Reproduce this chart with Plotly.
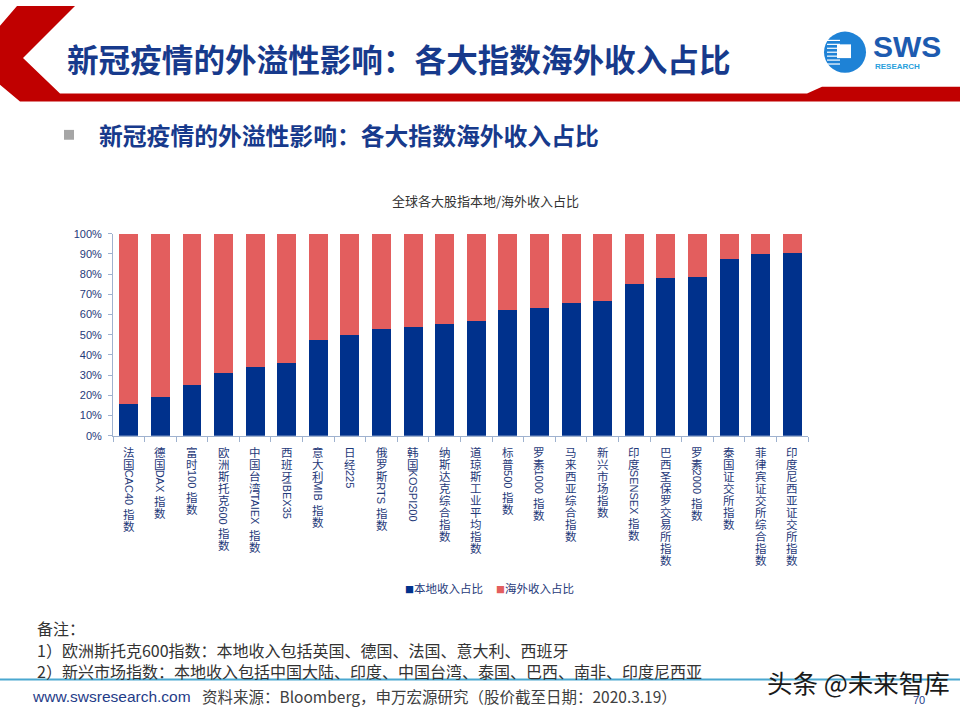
import plotly.graph_objects as go

# ---------------- data ----------------
categories = [
    "法国CAC40 指数", "德国DAX 指数", "富时100 指数", "欧洲斯托克600 指数",
    "中国台湾TAIEX 指数", "西班牙IBEX35", "意大利MIB 指数", "日经225",
    "俄罗斯RTS 指数", "韩国KOSPI200", "纳斯达克综合指数", "道琼斯工业平均指数",
    "标普500 指数", "罗素1000 指数", "马来西亚综合指数", "新兴市场指数",
    "印度SENSEX 指数", "巴西圣保罗交易所指数", "罗素2000 指数", "泰国证交所指数",
    "菲律宾证交所综合指数", "印度尼西亚证交所指数",
]
local_share = [15.8, 19.0, 24.9, 31.2, 33.8, 36.1, 47.3, 49.8, 52.7, 53.7, 55.1,
               56.7, 62.1, 63.3, 65.9, 66.8, 75.1, 78.0, 78.7, 87.3, 89.9, 90.4]
overseas_share = [84.2, 81.0, 75.1, 68.8, 66.2, 63.9, 52.7, 50.2, 47.3, 46.3, 44.9,
                  43.3, 37.9, 36.7, 34.1, 33.2, 24.9, 22.0, 21.3, 12.7, 10.1, 9.6]
series_names = ["本地收入占比", "海外收入占比"]
y_tick_values = [0, 10, 20, 30, 40, 50, 60, 70, 80, 90, 100]
y_tick_labels = ["0%", "10%", "20%", "30%", "40%", "50%", "60%", "70%", "80%", "90%", "100%"]

chart_title = "全球各大股指本地/海外收入占比"
page_title = "新冠疫情的外溢性影响：各大指数海外收入占比"
sub_title = "新冠疫情的外溢性影响：各大指数海外收入占比"
notes = ["备注：",
         "1）欧洲斯托克600指数：本地收入包括英国、德国、法国、意大利、西班牙",
         "2）新兴市场指数：本地收入包括中国大陆、印度、中国台湾、泰国、巴西、南非、印度尼西亚"]
footer_url = "www.swsresearch.com"
footer_source = "资料来源：Bloomberg，申万宏源研究（股价截至日期：2020.3.19）"
page_no = "70"
watermark = "头条 @未来智库"

# ---------------- styling ----------------
W, H = 960, 720
NAVY = "#00318C"
RED = "#E35E5E"
AXIS = "#9FB2CF"
LABEL = "#1F3A7A"
TITLE_BLUE = "#173A8C"
CJK = "Noto Sans CJK SC"
LAT = "Liberation Sans, Arial, Noto Sans CJK SC, sans-serif"


def px(x):
    return x / W


def py(y):
    return 1 - y / H


fig = go.Figure()
fig.add_trace(go.Bar(x=categories, y=local_share, name=series_names[0],
                     marker=dict(color=NAVY, line=dict(width=0))))
fig.add_trace(go.Bar(x=categories, y=overseas_share, name=series_names[1],
                     marker=dict(color=RED, line=dict(width=0))))

fig.update_layout(
    barmode="stack", bargap=0.4, width=W, height=H,
    margin=dict(l=0, r=0, t=0, b=0),
    paper_bgcolor="white", plot_bgcolor="white", showlegend=False,
)
fig.update_xaxes(
    domain=[px(113), px(808)], showticklabels=False, showline=True,
    linecolor=AXIS, linewidth=1, ticks="outside", tickson="boundaries",
    ticklen=5, tickcolor=AXIS, showgrid=False, zeroline=False,
)
fig.update_yaxes(
    domain=[py(437), py(231.5)], range=[0, 100], tickvals=y_tick_values,
    ticktext=y_tick_labels, ticks="outside", ticklen=4, tickcolor=AXIS,
    showline=True, linecolor=AXIS, linewidth=1, showgrid=False, zeroline=False,
    tickfont=dict(family=LAT, size=11, color=LABEL), ticklabelstandoff=4,
)

# ---------------- vertical category labels ----------------
# CJK runs are stacked one character per line (line pitch 12px);
# Latin runs are rotated 90 degrees, as in the reference.
ARIAL_W = {"C": .722, "A": .667, "D": .722, "X": .667, "T": .611, "I": .278,
           "E": .667, "B": .667, "M": .833, "R": .722, "S": .667, "K": .667,
           "O": .778, "P": .667, "N": .722, " ": .278}
PITCH = 12
BASE_FS = PITCH / 1.3
annotations = []
for cat in categories:
    offset = 10
    i = 0
    while i < len(cat):
        c = cat[i]
        if ord(c) < 128:
            j = i
            while j < len(cat) and ord(cat[j]) < 128:
                j += 1
            run = cat[i:j]
            w = sum(ARIAL_W.get(ch, .556) for ch in run) * 11
            annotations.append(dict(
                x=cat, y=0, xref="x", yref="y", text=run.strip(), showarrow=False,
                textangle=90, xanchor="center", yanchor="middle",
                yshift=-(offset + w / 2 - (1.5 if run.endswith(" ") else 0)),
                font=dict(family=LAT, size=11, color=LABEL), borderpad=0))
            offset += w
            i = j
        else:
            j = i
            while j < len(cat) and ord(cat[j]) >= 128:
                j += 1
            run = cat[i:j]
            txt = "<br>".join(f'<span style="font-size:11.5px">{ch}</span>' for ch in run)
            n = len(run)
            annotations.append(dict(
                x=cat, y=0, xref="x", yref="y", text=txt, showarrow=False,
                xanchor="center", yanchor="middle",
                yshift=-(offset + n * PITCH / 2),
                font=dict(family=CJK, size=BASE_FS, color=LABEL), borderpad=0))
            offset += n * PITCH
            i = j


def text_at(x, y, text, size, color, family=CJK, xanchor="left", yanchor="middle"):
    annotations.append(dict(x=px(x), y=py(y), xref="paper", yref="paper", text=text,
                            showarrow=False, xanchor=xanchor, yanchor=yanchor,
                            font=dict(family=family, size=size, color=color)))


# slide texts
text_at(65, 53, "<b>" + page_title + "</b>", 31.6, TITLE_BLUE)
text_at(97, 131, "<b>" + sub_title + "</b>", 23.8, TITLE_BLUE)
text_at(485, 198, chart_title, 13, "#333333", xanchor="center")
legend_txt = (f'<span style="color:{NAVY};font-size:9px">■</span>{series_names[0]}'
              f'&nbsp;&nbsp;&nbsp;&nbsp;&nbsp;<span style="color:{RED};font-size:9px">■</span>{series_names[1]}')
text_at(489, 592, legend_txt, 11.5, LABEL, xanchor="center")
text_at(35, 633, notes[0], 16, "#333333")
text_at(35, 655, notes[1], 16, "#333333")
text_at(35, 676, notes[2], 16, "#333333")
text_at(30, 702, footer_url, 15.5, "#1F3C88", family=LAT)
text_at(200, 702, footer_source, 15.5, "#404040")
text_at(919, 706, page_no, 11, "#1F3C88", family=LAT, xanchor="center")
text_at(765, 687, watermark, 25.5, "#1a1a1a")
# logo text
text_at(871, 41, "<b>SWS</b>", 30, "#1D5BB0", family=LAT)
text_at(873, 62, "<b>RESEARCH</b>", 8, "#28A0DC", family=LAT)

fig.update_layout(annotations=annotations)

# ---------------- decorative shapes ----------------
shapes = []
red_pts = [(17, 0), (75, 0), (23, 53), (60, 89), (807, 89), (822, 82), (960, 82),
           (960, 97), (20, 97), (0, 80), (0, 20)]
path = "M " + " L ".join(f"{px(x)},{py(y)}" for x, y in red_pts) + " Z"
shapes.append(dict(type="path", path=path, xref="paper", yref="paper",
                   fillcolor="#C00000", line=dict(width=0), layer="below"))
shapes.append(dict(type="rect", xref="paper", yref="paper", x0=px(64), x1=px(74),
                   y0=py(136), y1=py(126), fillcolor="#A6A6A6", line=dict(width=0)))
shapes.append(dict(type="line", xref="paper", yref="paper", x0=0, x1=1,
                   y0=py(685), y1=py(685), line=dict(color="#4AA8D0", width=2)))
# logo
shapes.append(dict(type="circle", xref="paper", yref="paper", x0=px(824), x1=px(866),
                   y0=py(68), y1=py(26), fillcolor="#1E82D6", line=dict(width=0)))
for yy in range(35, 60, 4):
    shapes.append(dict(type="line", xref="paper", yref="paper", x0=px(827), x1=px(840),
                       y0=py(yy), y1=py(yy), line=dict(color="white", width=1.2)))
shapes.append(dict(type="rect", xref="paper", yref="paper", x0=px(837), x1=px(851),
                   y0=py(53), y1=py(39), fillcolor="white", line=dict(width=0)))
fig.update_layout(shapes=shapes)

fig.write_html("out.html")
